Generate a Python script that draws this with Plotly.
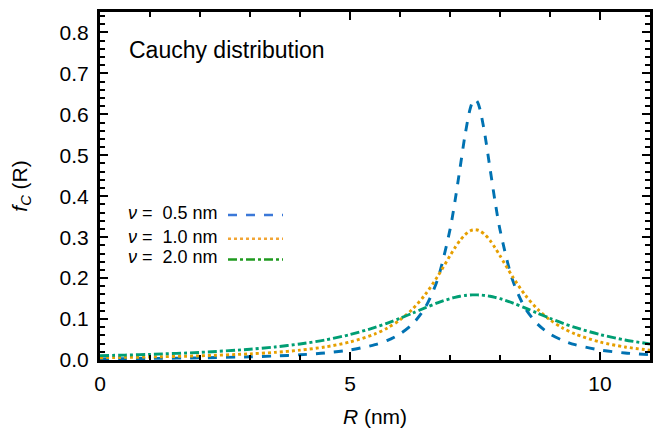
import plotly.graph_objects as go

R_nm = [0, 0.5, 1, 2, 3, 3.5, 4, 4.5, 5, 5.5, 5.75, 6, 6.25, 6.5, 6.75, 7, 7.1, 7.2, 7.3, 7.4, 7.45,
        7.5, 7.55, 7.6, 7.7, 7.8, 7.9, 8, 8.25, 8.5, 8.75, 9, 9.25, 9.5, 10, 10.5, 11]

f_nu05 = [0.00282, 0.00323, 0.00375, 0.00522, 0.00776, 0.00985, 0.01273, 0.01721, 0.02449, 0.03745,
          0.04805, 0.06366, 0.08781, 0.12732, 0.19588, 0.31831, 0.38818, 0.46810, 0.54881, 0.61214, 0.63032,
          0.63662, 0.63032, 0.61214, 0.54881, 0.46810, 0.38818, 0.31831, 0.19588, 0.12732, 0.08781, 0.06366,
          0.04805, 0.03745, 0.02449, 0.01721, 0.01273]
f_nu10 = [0.00556, 0.00637, 0.00736, 0.01019, 0.01498, 0.01872, 0.02402, 0.03183, 0.04391, 0.06366,
          0.07835, 0.09794, 0.12422, 0.15916, 0.20372, 0.25465, 0.27441, 0.29203, 0.30607, 0.31516, 0.31752,
          0.31831, 0.31752, 0.31516, 0.30607, 0.29203, 0.27441, 0.25465, 0.20372, 0.15916, 0.12422, 0.09794,
          0.07835, 0.06366, 0.04391, 0.03183, 0.02402]
f_nu20 = [0.01057, 0.01201, 0.01377, 0.01859, 0.02625, 0.03183, 0.03918, 0.04897, 0.06211, 0.07958,
          0.09012, 0.10186, 0.11445, 0.12732, 0.13953, 0.14979, 0.15303, 0.15565, 0.15758, 0.15876, 0.15906,
          0.15916, 0.15906, 0.15876, 0.15758, 0.15565, 0.15303, 0.14979, 0.13953, 0.12732, 0.11445, 0.10186,
          0.09012, 0.07958, 0.06211, 0.04897, 0.03918]

legend_labels = ["0.5 nm", "1.0 nm", "2.0 nm"]
curve_colors = ["#0072B2", "#E69F00", "#009E73"]
sample_colors = ["#3b78d8", "#f2a535", "#1f9a1f"]
dashes = ["dash", "dot", "dashdot"]

FONT = "Liberation Sans, Arial, sans-serif"

fig = go.Figure()
for ys, c, d in zip([f_nu05, f_nu10, f_nu20], curve_colors, dashes):
    fig.add_trace(go.Scatter(x=R_nm, y=ys, mode="lines",
                             line=dict(color=c, width=2.9, dash=d, shape="spline", smoothing=0.8),
                             showlegend=False, hoverinfo="skip"))

axis_common = dict(showline=True, linecolor="black", linewidth=3, mirror="ticks",
                   ticks="inside", tickcolor="black", tickwidth=2, ticklen=8,
                   showgrid=False, zeroline=False,
                   tickfont=dict(family=FONT, size=21, color="black"))

fig.update_xaxes(range=[0, 11], tickvals=[0, 5, 10], ticktext=["0", "5", "10"], ticklabelstandoff=3,
                 minor=dict(ticks="inside", dtick=1, ticklen=5, tickwidth=2, tickcolor="black", showgrid=False),
                 title=dict(text="<i>R</i> (nm)", font=dict(family=FONT, size=21, color="black"), standoff=17),
                 **axis_common)
fig.update_yaxes(range=[0, 0.85], dtick=0.1, tickformat=".1f", ticklabelstandoff=4,
                 minor=dict(ticks="inside", dtick=0.02, ticklen=5, tickwidth=2, tickcolor="black", showgrid=False),
                 title=dict(text="<i>f<sub>C</sub></i> (R)", font=dict(family=FONT, size=21, color="black"), standoff=28),
                 **axis_common)

# The page body has an 8 px margin; positions below are window pixels.
OFF = 8
plot_top, plot_bottom, plot_left, plot_right = 9, 362, 100, 650
def py(yp):
    return (plot_bottom - yp) / (plot_bottom - plot_top)
def px(xp):
    return (xp - plot_left) / (plot_right - plot_left)

fig.add_annotation(text="Cauchy distribution", xref="paper", yref="paper", x=px(127), y=py(48),
                   xanchor="left", yanchor="middle", showarrow=False,
                   font=dict(family=FONT, size=23, color="black"))

rows_y = [213, 237, 258]
for lab, yy, sc, d in zip(legend_labels, rows_y, sample_colors, dashes):
    fig.add_annotation(text="<i>ν</i> =  " + lab, xref="paper", yref="paper", x=px(126), y=py(yy),
                       xanchor="left", yanchor="middle", showarrow=False,
                       font=dict(family=FONT, size=18, color="black"))
    fig.add_shape(type="line", xref="paper", yref="paper", x0=px(228), x1=px(283), y0=py(yy + 2), y1=py(yy + 2),
                  line=dict(color=sc, width=2.5, dash=d))

fig.update_layout(width=646, height=420,
                  margin=dict(l=plot_left - OFF, r=646 + OFF - plot_right, t=plot_top - OFF, b=420 + OFF - plot_bottom),
                  plot_bgcolor="white", paper_bgcolor="white",
                  font=dict(family=FONT, color="black"))

fig.write_html("out.html")
